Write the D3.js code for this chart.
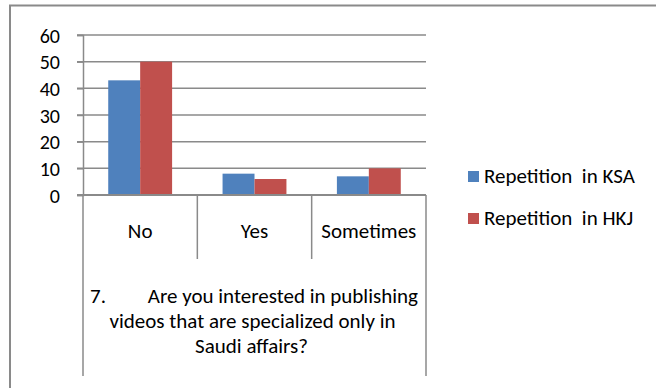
<!DOCTYPE html>
<html>
<head>
<meta charset="utf-8">
<script src="https://cdn.jsdelivr.net/npm/d3@7/dist/d3.min.js"></script>
<style>
  html, body { margin: 0; padding: 0; background: #fff; }
  svg { display: block; }
  text { font-family: Carlito, Calibri, Lato, "Open Sans", sans-serif; fill: #000; white-space: pre; }
</style>
</head>
<body>
<svg id="chart" width="656" height="388"></svg>
<script>
// Survey answers, question 7
const categories = ["No", "Yes", "Sometimes"];
const seriesNames = ["Repetition  in KSA", "Repetition  in HKJ"];
const ksaValues = [43, 8, 7];
const hkjValues = [50, 6, 10];
const yTicks = [0, 10, 20, 30, 40, 50, 60];
const questionLines = [
  ["7.", "Are you interested in publishing"],
  ["videos that are specialized only in"],
  ["Saudi affairs?"]
];

const colors = ["#4F81BD", "#C0504D"];
const gridColor = "#8a8a8a";
const labelSize = 21;

const svg = d3.select("#chart");

// outer frame (runs off the right and bottom edges)
svg.append("rect")
  .attr("x", 10).attr("y", 5.5)
  .attr("width", 660).attr("height", 400)
  .attr("fill", "none").attr("stroke", gridColor).attr("stroke-width", 2);

const plot = { left: 83, right: 426, top: 35, bottom: 195 };

const y = d3.scaleLinear().domain([0, 60]).range([plot.bottom, plot.top]);
const x0 = d3.scaleBand().domain(categories).range([plot.left, plot.right]).padding(0);
const x1 = d3.scaleBand().domain([0, 1]).range([0, x0.bandwidth()])
  .paddingInner(0).paddingOuter(0.79);

// horizontal gridlines
svg.append("g").selectAll("line").data(yTicks.filter(d => d > 0)).join("line")
  .attr("x1", plot.left - 6).attr("x2", plot.right)
  .attr("y1", d => y(d)).attr("y2", d => y(d))
  .attr("stroke", gridColor).attr("stroke-width", 1.5);

// bars
const rows = categories.map((c, i) => ({ cat: c, vals: [ksaValues[i], hkjValues[i]] }));
svg.append("g").selectAll("g").data(rows).join("g")
  .attr("transform", d => `translate(${x0(d.cat)},0)`)
  .selectAll("rect").data(d => d.vals.map((v, k) => ({ v, k }))).join("rect")
  .attr("x", d => x1(d.k))
  .attr("width", x1.bandwidth())
  .attr("y", d => y(d.v))
  .attr("height", d => y(0) - y(d.v))
  .attr("fill", d => colors[d.k]);

// value axis
const yAxis = d3.axisLeft(y).tickValues(yTicks).tickSize(6).tickPadding(17);
const gy = svg.append("g").attr("transform", `translate(${plot.left},0)`).call(yAxis);
gy.select(".domain").attr("stroke", gridColor).attr("stroke-width", 1.5);
gy.selectAll(".tick line").attr("stroke", gridColor).attr("stroke-width", 1.5);
gy.selectAll(".tick text").attr("font-size", 20).attr("font-family", null).attr("dy", "0.36em");

// category axis line
svg.append("line")
  .attr("x1", plot.left - 6).attr("x2", plot.right)
  .attr("y1", y(0)).attr("y2", y(0))
  .attr("stroke", gridColor).attr("stroke-width", 2);

// category label cells
const cellBottom = 259;
const frameBottom = 376;
const bounds = categories.map(c => x0(c)).concat([plot.right]);
svg.append("g").selectAll("line").data(bounds).join("line")
  .attr("x1", d => d).attr("x2", d => d)
  .attr("y1", y(0))
  .attr("y2", (d, i) => (i === 0 || i === bounds.length - 1) ? frameBottom : cellBottom)
  .attr("stroke", gridColor).attr("stroke-width", 1.5);

svg.append("g").selectAll("text").data(categories).join("text")
  .attr("x", d => x0(d) + x0.bandwidth() / 2)
  .attr("y", 238)
  .attr("text-anchor", "middle")
  .attr("font-size", labelSize)
  .text(d => d);

// question text under the categories
const qCenter = (plot.left + plot.right) / 2;
const q = svg.append("g").attr("font-size", labelSize);
q.append("text").attr("x", 90).attr("y", 303).text(questionLines[0][0]);
q.append("text").attr("x", 418).attr("y", 303)
  .attr("text-anchor", "end").text(questionLines[0][1]);
q.append("text").attr("x", qCenter - 2).attr("y", 328)
  .attr("text-anchor", "middle").text(questionLines[1][0]);
q.append("text").attr("x", qCenter - 3).attr("y", 353)
  .attr("text-anchor", "middle").text(questionLines[2][0]);

// legend
const legend = svg.append("g").attr("transform", "translate(468,171)");
const item = legend.selectAll("g").data(seriesNames).join("g")
  .attr("transform", (d, i) => `translate(0,${i * 42})`);
item.append("rect").attr("width", 11).attr("height", 11).attr("fill", (d, i) => colors[i]);
item.append("text").attr("x", 16).attr("y", 11.5).attr("font-size", 21).text(d => d);
</script>
</body>
</html>
